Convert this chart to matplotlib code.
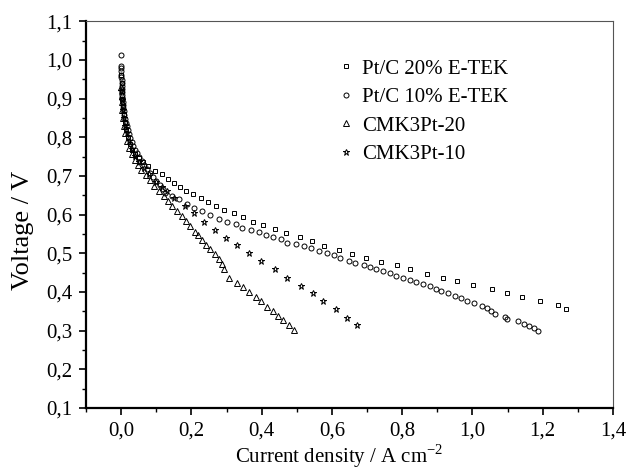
import numpy as np
import matplotlib.pyplot as plt
from matplotlib.ticker import MultipleLocator, FuncFormatter

plt.rcParams['font.family'] = ['Liberation Serif', 'DejaVu Serif']
plt.rcParams['mathtext.fontset'] = 'custom'
plt.rcParams['mathtext.rm'] = 'Liberation Serif'

# Pt/C 20% E-TEK (squares)
sq_x = [0.0, 0.001, 0.002, 0.003, 0.005, 0.007, 0.010, 0.014, 0.019, 0.025, 0.032, 0.040, 0.050, 0.063,
        0.077, 0.097, 0.116, 0.133, 0.150, 0.168, 0.185, 0.204, 0.226, 0.247, 0.271, 0.294, 0.321, 0.348,
        0.375, 0.404, 0.437, 0.470, 0.509, 0.543, 0.578, 0.619, 0.657, 0.696, 0.740, 0.785, 0.822, 0.871,
        0.917, 0.956, 1.003, 1.057, 1.099, 1.142, 1.193, 1.243, 1.265]
sq_y = [0.960, 0.940, 0.920, 0.900, 0.880, 0.860, 0.840, 0.820, 0.800, 0.782, 0.768, 0.756, 0.745, 0.735,
        0.725, 0.712, 0.704, 0.692, 0.682, 0.672, 0.661, 0.652, 0.642, 0.632, 0.623, 0.613, 0.603, 0.594,
        0.582, 0.572, 0.562, 0.551, 0.541, 0.532, 0.519, 0.509, 0.498, 0.488, 0.478, 0.469, 0.458, 0.447,
        0.437, 0.428, 0.419, 0.407, 0.398, 0.387, 0.376, 0.365, 0.357]

# Pt/C 10% E-TEK (circles)
ci_x = [0.0, 0.0, 0.0, 0.0, 0.0, 0.0005, 0.001, 0.001, 0.0015, 0.002, 0.002, 0.003, 0.003, 0.004, 0.005,
        0.006, 0.007, 0.009, 0.011, 0.013, 0.016, 0.019, 0.022, 0.026, 0.030, 0.035, 0.040, 0.046, 0.052,
        0.058, 0.065, 0.073, 0.081, 0.090, 0.100, 0.110, 0.118, 0.126, 0.145, 0.164, 0.188, 0.207, 0.230,
        0.252, 0.278, 0.302, 0.326, 0.345, 0.369, 0.392, 0.411, 0.433, 0.454, 0.473, 0.497, 0.521, 0.540,
        0.564, 0.585, 0.607, 0.623, 0.650, 0.667, 0.690, 0.709, 0.726, 0.745, 0.764, 0.783, 0.802, 0.821,
        0.840, 0.859, 0.878, 0.897, 0.911, 0.930, 0.950, 0.967, 0.985, 1.004, 1.026, 1.041, 1.054, 1.064,
        1.093, 1.099, 1.131, 1.147, 1.162, 1.175, 1.186]
ci_y = [1.012, 0.985, 0.978, 0.970, 0.962, 0.955, 0.947, 0.940, 0.932, 0.924, 0.916, 0.908, 0.900, 0.892,
        0.884, 0.876, 0.868, 0.858, 0.848, 0.838, 0.828, 0.818, 0.808, 0.798, 0.788, 0.778, 0.768, 0.758,
        0.748, 0.738, 0.728, 0.718, 0.708, 0.698, 0.688, 0.676, 0.666, 0.656, 0.649, 0.639, 0.627, 0.617,
        0.608, 0.599, 0.588, 0.582, 0.575, 0.566, 0.561, 0.554, 0.548, 0.543, 0.536, 0.526, 0.524, 0.519,
        0.513, 0.506, 0.501, 0.495, 0.488, 0.481, 0.475, 0.469, 0.464, 0.458, 0.453, 0.448, 0.442, 0.437,
        0.431, 0.426, 0.420, 0.414, 0.407, 0.401, 0.396, 0.390, 0.383, 0.377, 0.371, 0.364, 0.358, 0.351,
        0.344, 0.336, 0.331, 0.325, 0.318, 0.313, 0.307, 0.299]

# CMK3Pt-20 (triangles)
tr_x = [0.0, 0.001, 0.002, 0.003, 0.005, 0.008, 0.012, 0.017, 0.023, 0.030, 0.038, 0.047, 0.057, 0.071,
        0.081, 0.094, 0.107, 0.121, 0.133, 0.146, 0.159, 0.173, 0.184, 0.197, 0.211, 0.218, 0.230, 0.242,
        0.254, 0.267, 0.278, 0.286, 0.293, 0.307, 0.331, 0.348, 0.365, 0.383, 0.397, 0.416, 0.431, 0.447,
        0.462, 0.479, 0.492]
tr_y = [0.930, 0.910, 0.890, 0.870, 0.850, 0.830, 0.810, 0.790, 0.772, 0.756, 0.742, 0.729, 0.716, 0.702,
        0.689, 0.674, 0.661, 0.648, 0.635, 0.623, 0.610, 0.596, 0.583, 0.570, 0.556, 0.547, 0.534, 0.521,
        0.510, 0.497, 0.484, 0.471, 0.458, 0.435, 0.424, 0.412, 0.399, 0.386, 0.376, 0.362, 0.351, 0.338,
        0.327, 0.314, 0.302]

# CMK3Pt-10 (stars)
st_x = [0.0, 0.002, 0.004, 0.007, 0.011, 0.016, 0.022, 0.030, 0.040, 0.052, 0.064, 0.078, 0.100, 0.115,
        0.130, 0.151, 0.181, 0.207, 0.235, 0.267, 0.299, 0.331, 0.364, 0.399, 0.437, 0.473, 0.511, 0.547,
        0.576, 0.611, 0.642, 0.671]
st_y = [0.920, 0.895, 0.870, 0.850, 0.830, 0.810, 0.790, 0.770, 0.752, 0.737, 0.721, 0.704, 0.685, 0.672,
        0.661, 0.643, 0.623, 0.603, 0.580, 0.560, 0.540, 0.521, 0.500, 0.480, 0.458, 0.437, 0.416, 0.396,
        0.376, 0.355, 0.333, 0.314]

labels = ['Pt/C 20% E-TEK', 'Pt/C 10% E-TEK', 'CMK3Pt-20', 'CMK3Pt-10']

fig = plt.figure(figsize=(6.28, 4.71), dpi=100)
ax = fig.add_axes([0.137, 0.134, 0.839, 0.821])

mk = dict(linestyle='none', markerfacecolor='none', markeredgecolor='black', markeredgewidth=0.7)
ax.plot(sq_x, sq_y, marker='s', markersize=3.3, label=labels[0], **mk)
ax.plot(ci_x, ci_y, marker='o', markersize=3.6, label=labels[1], **mk)
ax.plot(tr_x, tr_y, marker='^', markersize=4.2, label=labels[2], **mk)
ax.plot(st_x, st_y, marker='*', markersize=5, label=labels[3], **mk)

ax.set_xlim(-0.1, 1.4)
ax.set_ylim(0.1, 1.1)
ax.xaxis.set_major_locator(MultipleLocator(0.2))
ax.xaxis.set_minor_locator(MultipleLocator(0.1))
ax.yaxis.set_major_locator(MultipleLocator(0.1))
ax.yaxis.set_minor_locator(MultipleLocator(0.05))
comma = FuncFormatter(lambda v, p: ('%.1f' % v).replace('.', ','))
ax.xaxis.set_major_formatter(comma)
ax.yaxis.set_major_formatter(comma)
ax.tick_params(which='major', direction='out', length=5, width=1.2, labelsize=15, pad=5)
ax.tick_params(which='minor', direction='out', length=3, width=1.0)

for s in ['left', 'bottom']:
    ax.spines[s].set_linewidth(1.6)
for s in ['top', 'right']:
    ax.spines[s].set_linewidth(0.8)
    ax.spines[s].set_color('#555555')

fig.text(339 / 628, 1 - 456 / 471, 'Current density / A cm$^{-2}$', fontsize=15,
         ha='center', va='center')
fig.text(23 / 628, 1 - 230 / 471, 'Voltage / V', fontsize=19, rotation=90,
         ha='center', va='center')

ax.legend(loc='upper left', bbox_to_anchor=(338 / 628, 1 - 59 / 471), bbox_transform=fig.transFigure,
          frameon=False, fontsize=15, borderpad=0, borderaxespad=0,
          handlelength=0.8, handletextpad=0.35, labelspacing=0.43)

fig.savefig('out.png', dpi=100)
